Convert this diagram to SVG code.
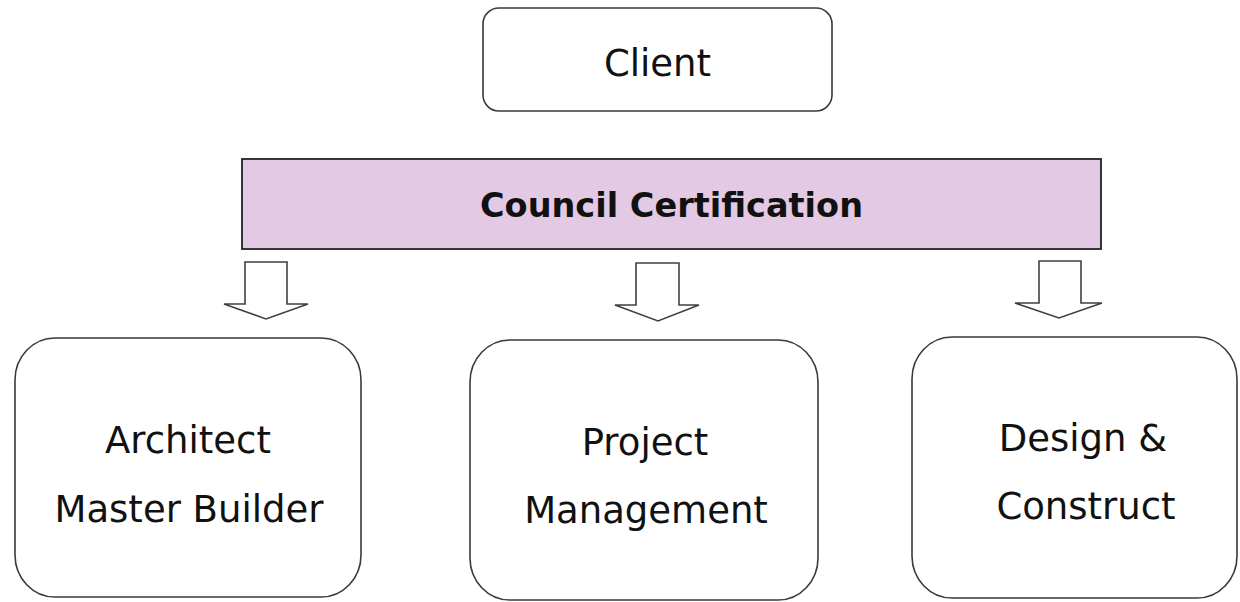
<svg xmlns="http://www.w3.org/2000/svg" width="1240" height="602" viewBox="0 0 1240 602">
<style>
.box{fill:#ffffff;stroke:#3a3a3a;stroke-width:1.6}
.band{fill:#e3c9e4;stroke:#222222;stroke-width:1.8}
.arrow{fill:#ffffff;stroke:#404040;stroke-width:1.6;stroke-linejoin:miter}
.lbl{font-family:"DejaVu Sans","Liberation Sans",sans-serif;font-size:37px;fill:#111111;text-anchor:middle}
.bold{font-family:"DejaVu Sans","Liberation Sans",sans-serif;font-size:33px;font-weight:bold;fill:#111111;text-anchor:middle}
</style>
<rect width="1240" height="602" fill="#ffffff"/>
<g id="client">
<rect class="box" x="483" y="8" width="349" height="103" rx="16" ry="16" stroke="#555555"/>
<text class="lbl" x="657.5" y="76">Client</text>
</g>
<g id="council">
<rect class="band" x="242" y="159" width="859" height="90"/>
<text class="bold" x="671.5" y="217" textLength="383" lengthAdjust="spacingAndGlyphs">Council Certification</text>
</g>
<g id="connectors">
<polygon class="arrow" points="245,262 287,262 287,304 308,304 266,319 224,304 245,304"/>
<polygon class="arrow" points="636,263 679,263 679,305 699,305 658,321 615,305 636,305"/>
<polygon class="arrow" points="1039,261 1081,261 1081,303 1102,303 1059,318 1015,303 1039,303"/>
</g>
<g id="architect">
<rect class="box" x="15" y="338" width="346" height="259" rx="40" ry="42"/>
<text class="lbl" x="188" y="453">Architect</text>
<text class="lbl" x="189" y="522">Master Builder</text>
</g>
<g id="project">
<rect class="box" x="470" y="340" width="348" height="260" rx="40" ry="42"/>
<text class="lbl" x="645" y="455">Project</text>
<text class="lbl" x="646" y="523">Management</text>
</g>
<g id="design">
<rect class="box" x="912" y="337" width="325" height="261" rx="40" ry="42"/>
<text class="lbl" x="1083" y="451">Design &amp;</text>
<text class="lbl" x="1086" y="519">Construct</text>
</g>
</svg>
